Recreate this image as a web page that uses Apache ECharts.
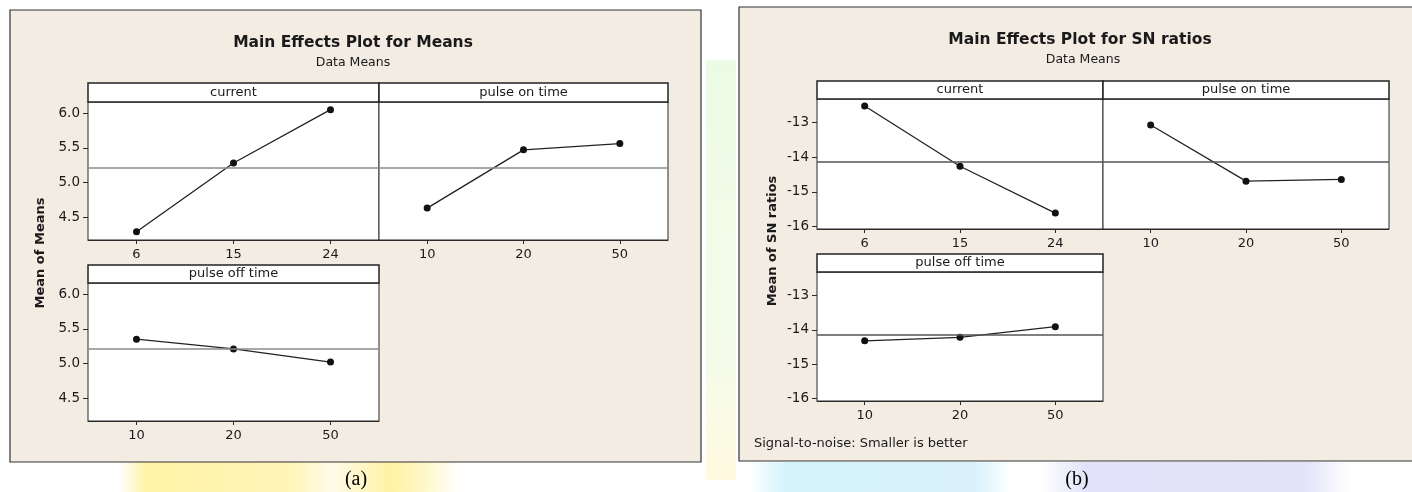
<!DOCTYPE html>
<html>
<head>
<meta charset="utf-8">
<script src="https://cdn.jsdelivr.net/npm/echarts@6/dist/echarts.min.js"></script>
<style>
  html, body { margin: 0; padding: 0; background: #fff; }
  #main { width: 1412px; height: 492px; }
</style>
</head>
<body>
<div id="main"></div>
<script>
// factor levels
const currentLevels = ['6', '15', '24'];
const onTimeLevels = ['10', '20', '50'];
const offTimeLevels = ['10', '20', '50'];

// (a) main effects for means
const meansCurrent = [4.29, 5.28, 6.05];
const meansOnTime = [4.63, 5.47, 5.56];
const meansOffTime = [5.35, 5.21, 5.02];
const meansTicks = [4.5, 5.0, 5.5, 6.0];

// (b) main effects for SN ratios
const snCurrent = [-12.52, -14.26, -15.61];
const snOnTime = [-13.07, -14.69, -14.64];
const snOffTime = [-14.32, -14.22, -13.91];
const snTicks = [-16, -15, -14, -13];

const avg = arr => arr.reduce((a, b) => a + b, 0) / arr.length
const meansGrand = avg([...meansCurrent, ...meansOnTime, ...meansOffTime])
const snGrand = avg([...snCurrent, ...snOnTime, ...snOffTime])

const FONT = '"DejaVu Sans", Verdana, sans-serif'

// one entry per facet
const facets = [
  { grid: { left: 88, top: 102, width: 291, height: 138 }, cats: currentLevels, data: meansCurrent, min: 4.17, max: 6.16, ticks: meansTicks, showY: true, dec: 1, mean: meansGrand, meanColor: '#8a8a8a' },
  { grid: { left: 379, top: 102, width: 289, height: 138 }, cats: onTimeLevels, data: meansOnTime, min: 4.17, max: 6.16, ticks: meansTicks, showY: false, dec: 1, mean: meansGrand, meanColor: '#8a8a8a' },
  { grid: { left: 88, top: 283, width: 291, height: 138 }, cats: offTimeLevels, data: meansOffTime, min: 4.17, max: 6.16, ticks: meansTicks, showY: true, dec: 1, mean: meansGrand, meanColor: '#8a8a8a' },
  { grid: { left: 817, top: 99, width: 286, height: 130 }, cats: currentLevels, data: snCurrent, min: -16.07, max: -12.32, ticks: snTicks, showY: true, dec: 0, mean: snGrand, meanColor: '#555' },
  { grid: { left: 1103, top: 99, width: 286, height: 130 }, cats: onTimeLevels, data: snOnTime, min: -16.07, max: -12.32, ticks: snTicks, showY: false, dec: 0, mean: snGrand, meanColor: '#555' },
  { grid: { left: 817, top: 272, width: 286, height: 129 }, cats: offTimeLevels, data: snOffTime, min: -16.07, max: -12.32, ticks: snTicks, showY: true, dec: 0, mean: snGrand, meanColor: '#555' }
]

const grids = [], xAxes = [], yAxes = [], series = []
facets.forEach((f, i) => {
  grids.push(Object.assign({
    show: true, backgroundColor: '#fff', borderColor: '#2a2a2a', borderWidth: 1,
    containLabel: false, outerBoundsMode: 'none'
  }, f.grid))
  xAxes.push({
    type: 'category', gridIndex: i, data: f.cats, boundaryGap: true,
    axisLine: { show: true, lineStyle: { color: '#2a2a2a', width: 1 } },
    axisTick: { show: true, alignWithLabel: true, length: 4, lineStyle: { color: '#2a2a2a' } },
    axisLabel: { margin: 8, fontSize: 13, color: '#1a1a1a', fontFamily: FONT },
    splitLine: { show: false }
  })
  yAxes.push({
    type: 'value', gridIndex: i, min: f.min, max: f.max,
    axisLine: { show: false },
    axisTick: { show: f.showY, length: 5, customValues: f.ticks, lineStyle: { color: '#2a2a2a' } },
    axisLabel: {
      show: f.showY, margin: 8, fontSize: 13.5, color: '#1a1a1a', fontFamily: FONT,
      customValues: f.ticks,
      formatter: v => Number(v).toFixed(f.dec)
    },
    splitLine: { show: false }
  })
  series.push({
    type: 'line', xAxisIndex: i, yAxisIndex: i, data: f.data,
    symbol: 'circle', symbolSize: 7,
    itemStyle: { color: '#111' },
    lineStyle: { color: '#222', width: 1.3 },
    animation: false,
    markLine: {
      silent: true, symbol: ['none', 'none'], label: { show: false },
      lineStyle: { color: f.meanColor, width: 1.5, type: 'solid' },
      data: [{ yAxis: f.mean }]
    }
  })
})

function header(x, y, w, h, label) {
  return [
    { type: 'rect', z: 20, shape: { x: x, y: y, width: w, height: h }, style: { fill: '#fff', stroke: '#222', lineWidth: 1.5 } },
    { type: 'text', z: 21, x: x + w / 2, y: y + h / 2, style: { text: label, font: '13px ' + FONT, fill: '#1a1a1a', align: 'center', verticalAlign: 'middle' } }
  ]
}
function txt(x, y, text, font, extra) {
  return Object.assign({ type: 'text', z: 21, x: x, y: y, style: { text: text, font: font, fill: '#1a1a1a', align: 'center', verticalAlign: 'middle' } }, extra || {})
}
function blob(x, y, w, h, stops, vertical) {
  return {
    type: 'rect', z: -30, shape: { x: x, y: y, width: w, height: h },
    style: { fill: new echarts.graphic.LinearGradient(0, 0, vertical ? 0 : 1, vertical ? 1 : 0, stops) }
  }
}

const graphic = [
  // faint watermark colours around the panels
  blob(120, 462, 340, 30, [
    { offset: 0, color: 'rgba(255,240,150,0)' }, { offset: 0.08, color: '#fff3a6' },
    { offset: 0.5, color: '#fff5b8' }, { offset: 0.62, color: '#fffbe8' },
    { offset: 0.8, color: '#fff2a4' }, { offset: 1, color: 'rgba(255,240,150,0)' }
  ]),
  blob(750, 462, 260, 30, [
    { offset: 0, color: 'rgba(200,240,250,0)' }, { offset: 0.15, color: '#d4f3fb' },
    { offset: 0.85, color: '#d9f1fb' }, { offset: 1, color: 'rgba(200,240,250,0)' }
  ]),
  blob(1040, 462, 310, 30, [
    { offset: 0, color: 'rgba(225,225,250,0)' }, { offset: 0.15, color: '#e2e3fa' },
    { offset: 0.85, color: '#e3e2f8' }, { offset: 1, color: 'rgba(225,225,250,0)' }
  ]),
  blob(706, 60, 30, 420, [
    { offset: 0, color: '#ecfbe6' }, { offset: 0.7, color: '#f4fbea' }, { offset: 1, color: '#fffae0' }
  ], true),

  // panel frames
  { type: 'rect', z: -20, shape: { x: 10, y: 10, width: 691, height: 452 }, style: { fill: '#f2ece3', stroke: '#333', lineWidth: 1.2 } },
  { type: 'rect', z: -20, shape: { x: 739, y: 7, width: 690, height: 454 }, style: { fill: '#f2ece3', stroke: '#333', lineWidth: 1.2 } },

  // titles
  txt(353, 43, 'Main Effects Plot for Means', 'bold 15.5px ' + FONT),
  txt(353, 63, 'Data Means', '12.5px ' + FONT),
  txt(1080, 40, 'Main Effects Plot for SN ratios', 'bold 15.5px ' + FONT),
  txt(1083, 60, 'Data Means', '12.5px ' + FONT),

  // facet strips
  ...header(88, 83, 291, 19, 'current'),
  ...header(379, 83, 289, 19, 'pulse on time'),
  ...header(88, 265, 291, 18, 'pulse off time'),
  ...header(817, 81, 286, 18, 'current'),
  ...header(1103, 81, 286, 18, 'pulse on time'),
  ...header(817, 254, 286, 18, 'pulse off time'),

  // axis names
  txt(41, 253, 'Mean of Means', 'bold 13px ' + FONT, { rotation: Math.PI / 2 }),
  txt(773, 241, 'Mean of SN ratios', 'bold 13px ' + FONT, { rotation: Math.PI / 2 }),

  // notes and captions
  { type: 'text', z: 21, x: 754, y: 444, style: { text: 'Signal-to-noise: Smaller is better', font: '13px ' + FONT, fill: '#1a1a1a', align: 'left', verticalAlign: 'middle' } },
  txt(356, 480, '(a)', '20px "Liberation Serif", serif', { style: { text: '(a)', font: '20px "Liberation Serif", serif', fill: '#000', align: 'center', verticalAlign: 'middle' } }),
  txt(1077, 480, '(b)', '20px "Liberation Serif", serif', { style: { text: '(b)', font: '20px "Liberation Serif", serif', fill: '#000', align: 'center', verticalAlign: 'middle' } })
]

const chart = echarts.init(document.getElementById('main'), null, { renderer: 'canvas' })
chart.setOption({
  animation: false,
  backgroundColor: '#fff',
  grid: grids,
  xAxis: xAxes,
  yAxis: yAxes,
  series: series,
  graphic: graphic
})
</script>
</body>
</html>
